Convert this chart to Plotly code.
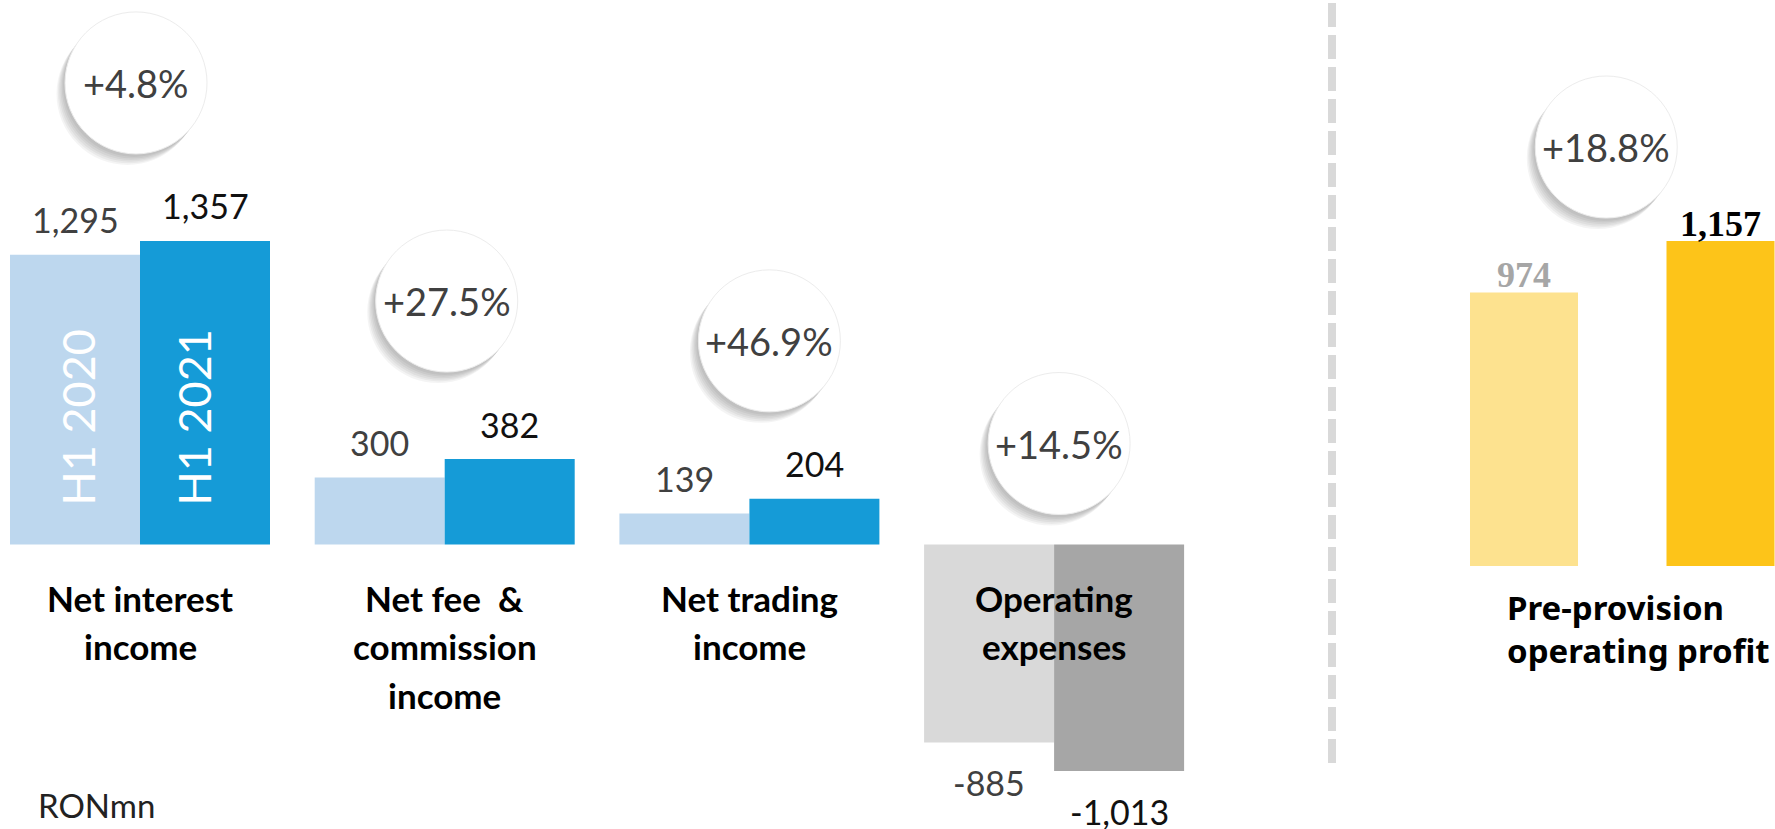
import plotly.graph_objects as go

# ---------------- data ----------------
categories = ["Net interest<br>income",
              "Net fee  &<br>commission<br>income",
              "Net trading<br>income",
              "Operating<br>expenses"]
series = ["H1 2020", "H1 2021"]
values_2020 = [1295, 300, 139, -885]
values_2021 = [1357, 382, 204, -1013]
growth = ["+4.8%", "+27.5%", "+46.9%", "+14.5%"]

ppop_category = "Pre-provision<br>operating profit"
ppop_values = [974, 1157]
ppop_growth = "+18.8%"
unit_label = "RONmn"

# ---------------- styles / geometry ----------------
W, H = 1775, 829
SANS = "Lato, 'Open Sans', sans-serif"
BOLD_SANS_R = "'Noto Sans', 'Open Sans', sans-serif"
SERIF = "'Liberation Serif', 'DejaVu Serif', serif"

C20_POS, C21_POS = "#BDD7EE", "#159BD7"
C20_NEG, C21_NEG = "#D9D9D9", "#A6A6A6"
C_PP = ["#FDE28F", "#FDC419"]
TXT20, TXT21 = "#404040", "#111111"

# left panel pixel geometry
L_FIRST, L_PITCH, L_BAR = 140.0, 304.7, 130.0
L_BASE, L_UPP, L_END = 544.5, 4.47, 1330.0
xr_left = [(0 - L_FIRST) / L_PITCH, (L_END - L_FIRST) / L_PITCH]
yr_left = [-(H - L_BASE) * L_UPP, L_BASE * L_UPP]
bw_left = L_BAR / L_PITCH

# right panel pixel geometry
R_START, R_FIRST, R_PITCH, R_BAR = 1349.0, 1524.0, 196.5, 108.0
R_BASE, R_UPP = 566.0, 3.56
xr_right = [(R_START - R_FIRST) / R_PITCH, (W - R_FIRST) / R_PITCH]
yr_right = [-(H - R_BASE) * R_UPP, R_BASE * R_UPP]
bw_right = R_BAR / R_PITCH

# small horizontal nudges of the growth bubbles (pixels, layout only)
BUBBLE_DX = [-4, 2, 20, 5]
PPOP_BUBBLE_DX = -16

idx = list(range(len(categories)))

fig = go.Figure()
fig.add_trace(go.Bar(
    x=[i - bw_left / 2 for i in idx], y=values_2020, width=bw_left, name=series[0],
    marker=dict(color=[C20_POS if v >= 0 else C20_NEG for v in values_2020], line_width=0),
    xaxis="x", yaxis="y", hoverinfo="skip", showlegend=False))
fig.add_trace(go.Bar(
    x=[i + bw_left / 2 for i in idx], y=values_2021, width=bw_left, name=series[1],
    marker=dict(color=[C21_POS if v >= 0 else C21_NEG for v in values_2021], line_width=0),
    xaxis="x", yaxis="y", hoverinfo="skip", showlegend=False))
fig.add_trace(go.Bar(
    x=[0, 1], y=ppop_values, width=bw_right,
    marker=dict(color=C_PP, line_width=0),
    xaxis="x2", yaxis="y2", hoverinfo="skip", showlegend=False))

shapes = []
annotations = []


def bubble(xref, yref, cx, ybase, off, text, xoff=0, r=71):
    for k in range(6):
        dx = xoff - (2 + k * 1.3)
        dy = -(3 + k * 1.6)
        shapes.append(dict(type="circle", xref=xref, yref=yref,
                           xsizemode="pixel", ysizemode="pixel",
                           xanchor=cx, yanchor=ybase,
                           x0=dx - r, x1=dx + r, y0=off + dy - r, y1=off + dy + r,
                           fillcolor="rgba(0,0,0,0.045)", line=dict(width=0), layer="above"))
    shapes.append(dict(type="circle", xref=xref, yref=yref,
                       xsizemode="pixel", ysizemode="pixel",
                       xanchor=cx, yanchor=ybase,
                       x0=xoff - r, x1=xoff + r, y0=off - r, y1=off + r,
                       fillcolor="white", line=dict(color="#ececec", width=1), layer="above"))
    annotations.append(dict(x=cx, y=ybase, xref=xref, yref=yref, yshift=off, xshift=xoff,
                            text=text, showarrow=False, yanchor="middle", xanchor="center",
                            font=dict(family=SANS, size=38, color="#404040")))


# bubbles
for i in idx:
    top = max(values_2020[i], values_2021[i], 0)
    off = 158 if top > 0 else 101
    bubble("x", "y", i, top, off, growth[i], BUBBLE_DX[i])
bubble("x2", "y2", 0.5, max(ppop_values), 94, ppop_growth, PPOP_BUBBLE_DX)

# value labels left panel
for i in idx:
    for vals, sgn, col in ((values_2020, -1, TXT20), (values_2021, 1, TXT21)):
        v = vals[i]
        annotations.append(dict(x=i + sgn * bw_left / 2, y=v, xref="x", yref="y",
                                yshift=35 if v >= 0 else -40, text=f"{v:,}", showarrow=False,
                                yanchor="middle", xanchor="center",
                                font=dict(family=SANS, size=34, color=col)))

# series labels inside first group
for sgn, name, xs in ((-1, series[0], 2), (1, series[1], -12)):
    annotations.append(dict(x=0 + sgn * bw_left / 2, y=0, xref="x", yref="y",
                            xshift=xs, yshift=127, text=name, textangle=-90, showarrow=False,
                            yanchor="middle", xanchor="center",
                            font=dict(family=SANS, size=45, color="white")))

# category labels (one annotation per line)
for i, cat in enumerate(categories):
    for j, line in enumerate(cat.split("<br>")):
        annotations.append(dict(x=i, y=0, xref="x", yref="y",
                                yshift=-(53 + 48.5 * j), text=f"<b>{line}</b>", showarrow=False,
                                yanchor="middle", xanchor="center",
                                font=dict(family=SANS, size=35, color="black")))

# right panel value labels
for k, (v, col) in enumerate(zip(ppop_values, ["#A6A6A6", "#000000"])):
    annotations.append(dict(x=k, y=v, xref="x2", yref="y2", yshift=17,
                            text=f"<b>{v:,}</b>", showarrow=False,
                            yanchor="middle", xanchor="center",
                            font=dict(family=SERIF, size=36, color=col)))

# right panel category label (left aligned)
for j, line in enumerate(ppop_category.split("<br>")):
    annotations.append(dict(x=0 - bw_right / 2, y=0, xref="x2", yref="y2",
                            xshift=35, yshift=-(41 + 43 * j), text=f"<b>{line}</b>",
                            showarrow=False, yanchor="middle", xanchor="left",
                            font=dict(family=BOLD_SANS_R, size=33, color="black")))

# unit label
annotations.append(dict(x=36 / W, y=(H - 805) / H, xref="paper", yref="paper",
                        text=unit_label, showarrow=False, xanchor="left", yanchor="middle",
                        font=dict(family=SANS, size=33, color="#222222")))

# dashed separator between the two panels
sep_x = (L_END + 2) / W
shapes.append(dict(type="line", xref="paper", yref="paper",
                   x0=sep_x, x1=sep_x, y0=(H - 763) / H, y1=1.0,
                   line=dict(color="#D9D9D9", width=8, dash="24px,8px"), layer="below"))

axis_off = dict(visible=False, showgrid=False, zeroline=False, fixedrange=True)
fig.update_layout(
    width=W, height=H,
    margin=dict(l=0, r=0, t=0, b=0),
    paper_bgcolor="white", plot_bgcolor="rgba(0,0,0,0)",
    barmode="overlay",
    xaxis=dict(domain=[0, L_END / W], range=xr_left, anchor="y", **axis_off),
    yaxis=dict(domain=[0, 1], range=yr_left, anchor="x", **axis_off),
    xaxis2=dict(domain=[R_START / W, 1], range=xr_right, anchor="y2", **axis_off),
    yaxis2=dict(domain=[0, 1], range=yr_right, anchor="x2", **axis_off),
    shapes=shapes, annotations=annotations,
)

fig.write_html("out.html", config={"displayModeBar": False},
               post_script="document.body.style.margin='0';document.body.style.overflow='hidden';")
